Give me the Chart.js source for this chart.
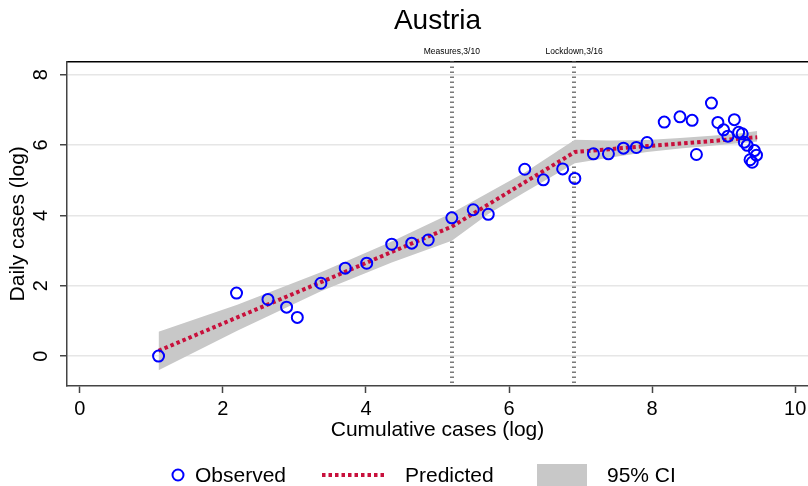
<!DOCTYPE html>
<html>
<head>
<meta charset="utf-8">
<script src="https://cdn.jsdelivr.net/npm/chart.js@4.4.0/dist/chart.umd.min.js"></script>
<style>
  html, body { margin: 0; padding: 0; background: #fff; }
  #wrap { width: 808px; height: 486px; position: relative; }
</style>
</head>
<body>
<div id="wrap"><canvas id="c" width="808" height="486"></canvas></div>
<script>
// ---- Data ----
const chartTitle = 'Austria';
const obsX = [1.10, 2.19, 2.63, 2.89, 3.04, 3.37, 3.71, 4.01, 4.36, 4.64, 4.87, 5.20, 5.50, 5.71, 6.22, 6.48, 6.75, 6.92, 7.18, 7.39, 7.60, 7.78, 7.93, 8.17, 8.39, 8.56, 8.62, 8.83, 8.92, 9.00, 9.06, 9.15, 9.21, 9.26, 9.29, 9.33, 9.37, 9.40, 9.43, 9.46];
const obsY = [0.00, 1.79, 1.61, 1.39, 1.10, 2.07, 2.50, 2.64, 3.18, 3.21, 3.30, 3.93, 4.16, 4.03, 5.31, 5.01, 5.32, 5.05, 5.75, 5.75, 5.91, 5.93, 6.07, 6.65, 6.80, 6.70, 5.73, 7.19, 6.64, 6.43, 6.25, 6.72, 6.36, 6.32, 6.08, 5.99, 5.58, 5.51, 5.84, 5.71];
const predX = [1.10, 2.20, 3.37, 4.36, 5.20, 5.71, 6.22, 6.92, 7.40, 7.93, 8.39, 8.83, 9.21, 9.47];
const predY = [0.15, 1.10, 2.10, 2.96, 3.68, 4.31, 4.94, 5.80, 5.88, 5.97, 6.04, 6.11, 6.18, 6.22];
const ciLow = [-0.40, 0.72, 1.84, 2.66, 3.28, 4.04, 4.66, 5.48, 5.64, 5.80, 5.90, 5.98, 6.05, 6.10];
const ciHigh = [0.69, 1.46, 2.38, 3.26, 4.07, 4.64, 5.22, 6.15, 6.13, 6.14, 6.20, 6.26, 6.33, 6.40];
const eventX = [5.20, 6.91];
const eventLabels = ['Measures,3/10', 'Lockdown,3/16'];
const xTicks = [0, 2, 4, 6, 8, 10];
const yTicks = [0, 2, 4, 6, 8];
const xTitle = 'Cumulative cases (log)';
const yTitle = 'Daily cases (log)';
const legendLabels = ['Observed', 'Predicted', '95% CI'];

// ---- Styles ----
const FONT = "'Liberation Sans', Arial, Helvetica, sans-serif";
const BLUE = '#0000ff';
const RED = '#c8103c';
const BAND = 'rgb(200,200,200)';
const AXIS = '#444';

const toPts = (xs, ys) => xs.map((v, i) => ({ x: v, y: ys[i] }));
const noPad = s => { s.paddingLeft = 0; s.paddingRight = 0; s.paddingTop = 0; s.paddingBottom = 0; };

const customPlugin = {
  id: 'custom',
  beforeDatasetsDraw(chart) {
    const { ctx, chartArea, scales } = chart;
    const x = scales.x;
    ctx.save();
    ctx.strokeStyle = '#7a7a7a';
    ctx.lineWidth = 4;
    ctx.setLineDash([1.5, 3.5]);
    eventX.forEach(v => {
      const px = Math.round(x.getPixelForValue(v));
      ctx.beginPath();
      ctx.moveTo(px, chartArea.top);
      ctx.lineTo(px, chartArea.bottom);
      ctx.stroke();
    });
    ctx.restore();
  },
  afterDraw(chart) {
    const { ctx, scales } = chart;
    const y = scales.y;
    ctx.save();
    ctx.fillStyle = '#000';
    ctx.font = '20px ' + FONT;
    ctx.textAlign = 'center';
    ctx.textBaseline = 'middle';
    yTicks.forEach(v => {
      const py = y.getPixelForValue(v);
      ctx.save();
      ctx.translate(41, py);
      ctx.rotate(-Math.PI / 2);
      ctx.fillText(String(v), 0, 0);
      ctx.restore();
    });
    const ly = 475;
    ctx.font = '21px ' + FONT;
    ctx.textAlign = 'left';
    ctx.textBaseline = 'middle';
    ctx.strokeStyle = BLUE; ctx.lineWidth = 2;
    ctx.beginPath(); ctx.arc(178, ly, 5.5, 0, Math.PI * 2); ctx.stroke();
    ctx.fillText(legendLabels[0], 195, ly + 1);
    ctx.strokeStyle = RED; ctx.lineWidth = 4; ctx.setLineDash([3.5, 3]);
    ctx.beginPath(); ctx.moveTo(322, ly); ctx.lineTo(384, ly); ctx.stroke();
    ctx.setLineDash([]);
    ctx.fillText(legendLabels[1], 405, ly + 1);
    ctx.fillStyle = BAND;
    ctx.fillRect(537, 464, 50, 23);
    ctx.fillStyle = '#000';
    ctx.fillText(legendLabels[2], 607, ly + 1);
    ctx.restore();
  }
};

new Chart(document.getElementById('c'), {
  type: 'scatter',
  data: {
    datasets: [
      { label: 'Observed', data: toPts(obsX, obsY), order: 0,
        pointRadius: 5.5, pointBorderWidth: 2, borderColor: BLUE, backgroundColor: 'rgba(0,0,0,0)', showLine: false },
      { label: 'Predicted', data: toPts(predX, predY), order: 1, type: 'line',
        borderColor: RED, borderWidth: 4, borderDash: [3.5, 3], pointRadius: 0, fill: false, tension: 0 },
      { label: 'low', data: toPts(predX, ciLow), order: 3, type: 'line',
        borderWidth: 0, borderColor: 'rgba(0,0,0,0)', pointRadius: 0, fill: false },
      { label: '95% CI', data: toPts(predX, ciHigh), order: 2, type: 'line',
        borderWidth: 0, borderColor: 'rgba(0,0,0,0)', pointRadius: 0, fill: '-1', backgroundColor: BAND }
    ]
  },
  options: {
    responsive: false,
    animation: false,
    layout: { autoPadding: false, padding: { left: 0, right: 0, top: 0, bottom: 42 } },
    plugins: {
      legend: { display: false },
      tooltip: { enabled: false },
      title: {
        display: true, text: chartTitle, fullSize: false, color: '#000',
        font: { family: FONT, size: 28, weight: 'normal' },
        padding: { top: 4, bottom: 4 }
      }
    },
    scales: {
      x: {
        type: 'linear', position: 'bottom', min: -0.18, max: 10.18,
        afterBuildTicks: s => { s.ticks = xTicks.map(v => ({ value: v })); },
        afterFit: s => { s.height = 58; noPad(s); },
        border: { display: true, color: AXIS, width: 1.5 },
        grid: { drawOnChartArea: false, drawTicks: true, tickLength: 7, tickColor: AXIS, tickWidth: 1.5 },
        ticks: { color: '#000', font: { family: FONT, size: 20 }, padding: 4, maxRotation: 0 },
        title: { display: true, text: xTitle, color: '#000', font: { family: FONT, size: 21 }, padding: { top: 0, bottom: 1 } }
      },
      x2: {
        type: 'linear', position: 'top', min: -0.18, max: 10.18,
        afterBuildTicks: s => { s.ticks = eventX.map(v => ({ value: v })); },
        afterFit: s => { s.height = 20; noPad(s); },
        border: { display: true, color: '#000', width: 1.5 },
        grid: { display: true, drawOnChartArea: false, drawTicks: false },
        ticks: { color: '#000', font: { family: FONT, size: 8.5 }, padding: 5, maxRotation: 0, autoSkip: false,
          callback: (v) => { const i = eventX.indexOf(v); return i >= 0 ? eventLabels[i] : ''; } }
      },
      y: {
        type: 'linear', position: 'left', min: -0.85, max: 8.37,
        afterBuildTicks: s => { s.ticks = yTicks.map(v => ({ value: v })); },
        afterFit: s => { s.width = 67; noPad(s); },
        border: { display: true, color: AXIS, width: 1.5 },
        grid: { drawOnChartArea: true, color: '#e6e6e6', lineWidth: 1.5, drawTicks: true, tickLength: 7, tickColor: AXIS, tickWidth: 1.5 },
        ticks: { display: false },
        title: { display: true, text: yTitle, color: '#000', font: { family: FONT, size: 21 }, padding: { top: 6, bottom: 0 } }
      }
    }
  },
  plugins: [customPlugin]
});
</script>
</body>
</html>
